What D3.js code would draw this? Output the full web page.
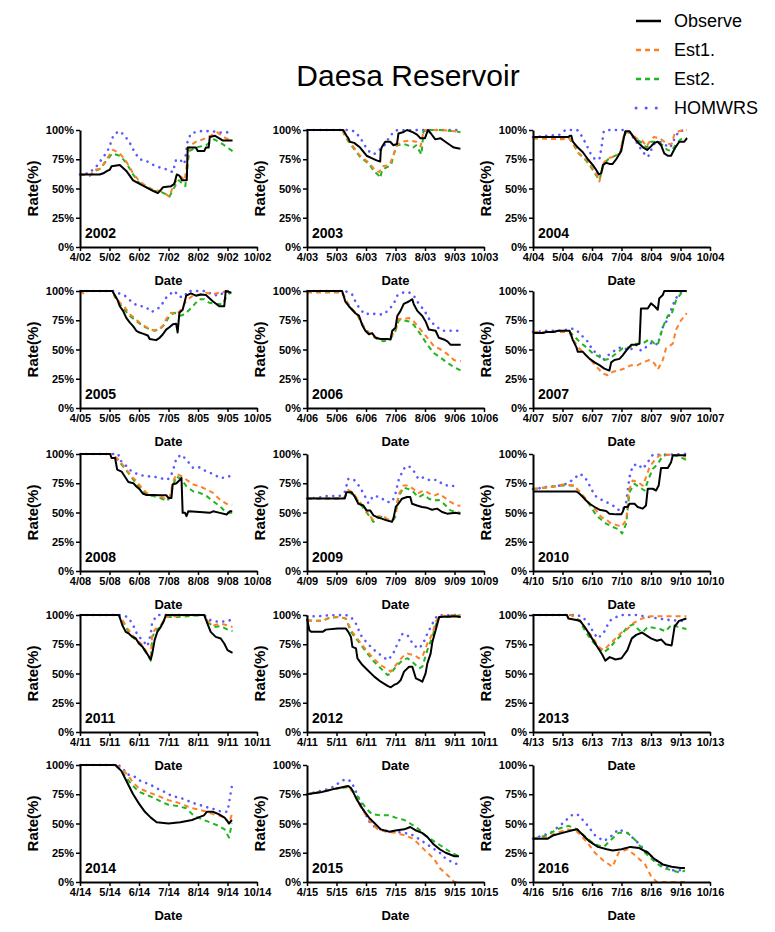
<!DOCTYPE html>
<html>
<head>
<meta charset="utf-8">
<script src="https://cdn.jsdelivr.net/npm/d3@7"></script>
<style>
body { margin: 0; background: #fff; }
svg text { font-family: "Liberation Sans", Arial, sans-serif; }
</style>
</head>
<body>
<svg id="chart" width="775" height="932"></svg>
<script>
// panels, one per year
var years = [2002, 2003, 2004, 2005, 2006, 2007, 2008, 2009, 2010, 2011, 2012, 2013, 2014, 2015, 2016];
// year suffix printed on the date ticks (the 2012 panel says /11 in the source)
var tickYY = ['02', '03', '04', '05', '06', '07', '08', '09', '10', '11', '11', '13', '14', '15', '16'];
var monthTicks = [4, 5, 6, 7, 8, 9, 10];
var rateTicks = [0, 25, 50, 75, 100];
var seriesNames = ['Observe', 'Est1.', 'Est2.', 'HOMWRS'];

// points are [month (4 = 1 April), rate %]
var observe = [
  [[4,62],[4.67,62],[4.79,63],[4.92,65],[5.01,66],[5.07,69],[5.35,70],[5.57,65],[5.8,57],[6.02,54],[6.25,51],[6.47,48],[6.64,46],[6.75,49],[6.81,51],[7.09,52],[7.2,54],[7.28,62],[7.37,61],[7.46,57],[7.62,57],[7.65,85],[7.93,85],[7.99,82],[8.21,82],[8.27,85],[8.36,85],[8.4,94],[8.58,95],[8.78,92],[8.85,91],[9.17,91]],
  [[4,100],[5.23,100],[5.34,95],[5.4,93],[5.45,90],[5.6,89],[5.8,85],[6.02,78],[6.19,76],[6.36,74],[6.48,73],[6.5,82],[6.53,85],[6.65,90],[6.82,90],[6.93,87],[7.05,88],[7.1,97],[7.25,98],[7.39,100],[7.6,98],[7.73,96],[7.84,93],[8.0,93],[8.1,100],[8.2,97],[8.35,92],[8.52,93],[8.69,90],[8.86,87],[8.98,85],[9.2,84]],
  [[4,94],[5.18,94],[5.25,95],[5.3,95],[5.35,90],[5.52,85],[5.69,81],[5.86,75],[6.03,70],[6.14,66],[6.23,62],[6.31,63],[6.37,70],[6.48,72],[6.59,71],[6.7,71],[6.82,75],[6.99,82],[7.07,92],[7.13,99],[7.27,99],[7.38,95],[7.5,91],[7.61,88],[7.74,85],[7.87,83],[8.0,86],[8.11,89],[8.23,90],[8.34,87],[8.45,80],[8.57,78],[8.68,78],[8.76,82],[8.85,86],[8.96,90],[9.13,90],[9.22,93]],
  [[4,100],[5.1,100],[5.12,99],[5.26,93],[5.35,87],[5.46,83],[5.57,77],[5.69,73],[5.8,70],[5.91,66],[6.02,64.5],[6.13,63.6],[6.3,62],[6.36,59],[6.58,58],[6.7,60],[6.81,63],[6.92,67],[7.03,69],[7.15,71.6],[7.26,72],[7.31,64.5],[7.37,81.5],[7.48,84],[7.6,96],[7.76,98],[7.93,96],[8.1,97],[8.27,96.6],[8.49,91.5],[8.72,87],[8.89,87],[8.94,100],[9.13,98.6]],
  [[4,100],[5.19,100],[5.3,91],[5.42,87],[5.53,84],[5.64,81],[5.76,79],[5.87,71],[5.98,66],[6.1,63],[6.21,64],[6.32,60],[6.49,59],[6.72,59],[6.83,58.6],[6.89,66],[7.0,68.6],[7.06,78.6],[7.17,83],[7.28,89],[7.45,91],[7.57,93],[7.62,88.6],[7.74,83],[7.91,78.6],[8.02,74],[8.13,67],[8.36,66],[8.47,60],[8.64,58.6],[8.76,57],[8.87,54],[9.21,54]],
  [[4,64],[4.34,64],[4.45,65],[4.68,65],[4.85,66],[5.24,66],[5.3,62],[5.35,58],[5.47,52],[5.52,48],[5.69,48],[5.8,45],[5.92,42],[6.09,39],[6.25,36.6],[6.42,33.7],[6.59,32],[6.65,39],[6.76,41],[6.93,42],[7.04,45],[7.16,49],[7.33,54],[7.5,54],[7.61,55],[7.66,85],[7.89,85],[8.0,89.4],[8.12,87],[8.23,84],[8.28,93.7],[8.4,96.6],[8.45,100],[9.21,100]],
  [[4,100],[5.02,100],[5.07,96.6],[5.19,96.6],[5.26,86.6],[5.41,85],[5.52,80.7],[5.64,76],[5.81,75],[5.92,72],[6.03,69.6],[6.14,66],[6.26,65],[6.48,65],[6.71,64.8],[6.93,64.8],[6.99,62.5],[7.1,62.5],[7.14,73.9],[7.27,75],[7.39,78],[7.44,79.5],[7.48,49.7],[7.56,49.7],[7.61,46.9],[7.67,51],[8.06,50.5],[8.4,49.7],[8.51,51],[8.74,49.7],[8.97,48.3],[9.08,51],[9.16,51]],
  [[4,62],[5.28,62],[5.34,67.4],[5.51,67.4],[5.63,63],[5.74,57.5],[5.91,56],[6.02,51.8],[6.14,51.8],[6.25,47.6],[6.36,46.2],[6.53,44.8],[6.7,43.3],[6.88,42],[6.93,44.8],[7.01,54.7],[7.1,57.5],[7.22,61.8],[7.39,63.2],[7.5,63.2],[7.56,57.5],[7.73,56],[7.9,54.7],[8.07,54],[8.24,52.4],[8.41,53.3],[8.58,50.4],[8.75,49],[9.03,49.8],[9.2,49]],
  [[4,68],[5.47,68],[5.58,66],[5.69,63.2],[5.8,60.3],[5.92,57.5],[6.09,54.7],[6.25,52.4],[6.48,51.3],[6.59,49],[6.82,48.4],[6.99,48.4],[7.04,50.4],[7.1,54.7],[7.21,54.7],[7.27,57.5],[7.44,57.5],[7.55,54.7],[7.72,53.3],[7.83,56],[7.89,70.3],[8.06,70.3],[8.17,68.8],[8.26,73],[8.34,88],[8.57,88],[8.68,93],[8.74,99],[9.19,99]],
  [[4,100],[5.32,100],[5.44,91],[5.55,85.6],[5.66,84],[5.78,81.3],[5.89,79.9],[6.0,75.6],[6.12,72.8],[6.23,68.6],[6.34,64.3],[6.4,62],[6.45,67],[6.53,78.5],[6.62,85.6],[6.74,89.8],[6.85,95.5],[6.91,100],[8.21,100],[8.32,92.6],[8.43,85.6],[8.6,81.3],[8.77,79.9],[8.89,75.6],[9.0,70],[9.17,67.7]],
  [[4,96.9],[4.08,87],[4.14,85.6],[4.53,85.6],[4.64,87.5],[5.04,88.4],[5.32,88.4],[5.4,85.6],[5.49,81.3],[5.54,72.8],[5.66,71.4],[5.71,62.9],[5.88,57.2],[6.05,53],[6.28,47.3],[6.5,43],[6.73,39.4],[6.84,38.2],[6.95,40.2],[7.07,41.6],[7.18,44.5],[7.29,51.6],[7.46,55.8],[7.57,55.8],[7.69,45.9],[7.8,44.5],[7.91,43],[8.02,50.1],[8.08,58.6],[8.19,67],[8.25,77],[8.36,87],[8.48,98.3],[8.98,98.9],[9.21,98.3]],
  [[4,100],[5.15,100],[5.2,97],[5.6,95],[5.8,88],[6.0,80],[6.2,72],[6.35,66],[6.45,61],[6.6,64],[6.8,62],[7.0,63],[7.2,70],[7.35,80],[7.5,83],[7.7,85],[8.0,80],[8.2,78],[8.35,79],[8.5,75],[8.7,74],[8.8,90],[8.95,95],[9.2,97]],
  [[4,100],[5.2,100],[5.4,95],[5.6,85],[5.8,75],[6.0,67],[6.2,60],[6.4,55],[6.6,51],[7.0,50],[7.4,51],[7.8,53],[8.0,55],[8.2,57],[8.3,60],[8.5,60],[8.7,58],[8.9,55],[9.0,52],[9.05,50],[9.15,53]],
  [[4,75],[4.5,77],[5.0,80],[5.4,82],[5.5,80],[5.7,70],[5.9,62],[6.1,55],[6.3,50],[6.5,45],[6.8,43],[7.0,44],[7.3,45],[7.5,47],[7.7,44],[7.9,42],[8.1,38],[8.3,32],[8.5,28],[8.7,25],[9.0,22],[9.15,22]],
  [[4,37],[4.5,37],[4.7,40],[5.0,42],[5.3,44],[5.5,45],[5.7,40],[5.9,35],[6.2,30],[6.5,28],[6.7,27],[7.0,28],[7.3,30],[7.6,29],[7.9,25],[8.1,20],[8.4,15],[8.7,13],[9.0,12],[9.15,12]]
];

var est1 = [
  [[4,62],[4.34,61],[4.5,66],[4.7,67],[4.9,75],[5.12,83],[5.35,80],[5.57,73],[5.8,63],[6.02,56],[6.25,52],[6.47,49],[6.7,48],[6.92,45],[7.03,43],[7.2,55],[7.43,60],[7.55,57],[7.7,86],[7.93,90],[8.16,92],[8.5,96],[8.65,98],[8.94,93],[9.17,91]],
  [[4,100],[5.2,100],[5.3,95],[5.5,88],[5.8,78],[6.1,72],[6.3,66],[6.45,64],[6.55,69],[6.8,70],[6.95,80],[7.05,87],[7.2,90],[7.5,91],[7.7,90],[7.85,86],[7.95,99],[8.05,100],[8.5,100],[9.0,99],[9.2,98]],
  [[4,93],[5.0,92],[5.2,94],[5.38,88],[5.55,80],[5.8,75],[6.0,68],[6.15,62],[6.25,56],[6.4,72],[6.55,76],[6.7,77],[6.95,80],[7.05,93],[7.15,99],[7.35,97],[7.5,93],[7.7,91],[7.85,86],[7.95,90],[8.1,94],[8.3,93],[8.45,90],[8.55,88],[8.7,88],[8.8,97],[8.95,99],[9.1,100],[9.22,100]],
  [[4,100],[4.1,98],[4.25,100],[5.1,100],[5.18,96],[5.35,90],[5.52,86],[5.69,80],[5.8,78],[6.02,73],[6.25,69],[6.47,66.5],[6.64,67],[6.81,70],[6.92,76],[7.09,81.5],[7.26,80],[7.43,84],[7.6,91.5],[7.82,96],[8.04,97],[8.27,98.6],[8.49,97],[8.72,98.6],[9.0,100],[9.13,98.6]],
  [[4,99],[5.19,99],[5.3,93],[5.47,86],[5.7,80],[5.93,69],[6.15,63],[6.38,60],[6.6,58.6],[6.83,60],[7.0,67],[7.11,76],[7.28,76],[7.45,77],[7.62,74],[7.85,67],[8.08,60],[8.3,53],[8.53,50],[8.76,46],[8.98,41],[9.21,40]],
  [[4,65],[5.1,65],[5.24,64],[5.35,59],[5.52,52],[5.69,48],[5.92,42],[6.14,35.7],[6.37,29.4],[6.54,28],[6.71,31],[6.88,32],[7.1,33.7],[7.33,36.6],[7.55,36.6],[7.72,39],[7.95,41],[8.12,38],[8.23,33],[8.4,41],[8.51,51],[8.74,55],[8.85,67],[9.02,75],[9.21,81]],
  [[4,100],[5.1,100],[5.24,96.6],[5.41,92],[5.58,86.6],[5.75,80.7],[5.92,76.7],[6.09,71],[6.26,66.8],[6.48,65],[6.71,64],[6.93,61],[7.05,64],[7.16,76.7],[7.27,83],[7.44,81],[7.61,78],[7.84,73.9],[8.06,72.4],[8.29,69.6],[8.51,66.8],[8.74,61],[8.97,57.4],[9.16,56.8]],
  [[4,62],[5.2,62],[5.28,63.2],[5.4,69.4],[5.57,66.6],[5.74,60.3],[5.91,55.2],[6.08,49],[6.25,43.3],[6.36,46.2],[6.53,47.6],[6.7,44.8],[6.88,43.3],[6.99,47.6],[7.1,65],[7.27,73],[7.44,73],[7.61,70],[7.78,66.6],[7.95,68.8],[8.13,66.6],[8.3,64.3],[8.47,66],[8.64,63.2],[8.86,59],[9.09,56],[9.2,55.8]],
  [[4,70],[4.3,71],[4.7,72],[5.0,74],[5.4,73],[5.63,66],[5.8,61.8],[5.97,56],[6.14,51.8],[6.31,46.2],[6.48,44],[6.65,40.5],[6.87,39],[6.99,37.7],[7.16,43.3],[7.25,68.8],[7.38,77.3],[7.55,76],[7.72,73],[7.83,80],[7.95,88.7],[8.11,94.3],[8.28,98.6],[8.51,99.4],[8.96,99],[9.19,97.7]],
  [[4,100],[5.3,100],[5.44,95.5],[5.61,88.4],[5.78,82.7],[5.95,78.5],[6.12,74.2],[6.29,67],[6.4,64.3],[6.45,84],[6.57,88.4],[6.74,91.2],[6.91,98.3],[7.19,98.9],[7.64,100],[8.21,100],[8.32,95],[8.55,91.2],[8.77,92.6],[9.0,91.2],[9.17,89.8]],
  [[4,95.5],[4.19,95],[4.53,95],[4.76,97.7],[5.09,98.3],[5.32,96.9],[5.49,87],[5.66,81.3],[5.88,74.2],[6.05,68.6],[6.28,62],[6.5,57.2],[6.73,53.5],[6.84,51.6],[7.01,57.2],[7.24,64.3],[7.41,67],[7.63,65.7],[7.8,62.9],[7.91,64.3],[8.08,75.6],[8.25,84],[8.36,94],[8.48,98.9],[8.98,100],[9.21,100]],
  [[4,100],[5.3,100],[5.6,95],[5.8,88],[6.05,80],[6.2,73],[6.4,70],[6.6,75],[6.8,80],[7.0,85],[7.2,88],[7.4,93],[7.6,96],[7.8,98],[8.0,99],[8.6,99],[9.2,99]],
  [[4,100],[5.2,100],[5.4,97],[5.6,92],[5.8,85],[6.0,80],[6.2,78],[6.5,75],[6.8,72],[7.0,70],[7.3,68],[7.6,65],[7.8,63],[8.0,62],[8.3,60],[8.5,58],[8.7,57],[8.9,55],[9.05,50],[9.15,58]],
  [[4,75],[4.5,77],[5.0,80],[5.4,82],[5.6,75],[5.8,65],[6.0,57],[6.2,50],[6.4,45],[6.7,43],[7.0,42],[7.3,40],[7.6,37],[7.8,32],[8.0,27],[8.3,20],[8.5,12],[8.8,5],[9.0,0],[9.15,0]],
  [[4,37],[4.5,38],[4.8,42],[5.2,45],[5.5,43],[5.8,35],[6.1,25],[6.4,18],[6.7,13],[6.9,25],[7.2,28],[7.5,22],[7.8,15],[8.0,5],[8.2,0],[9.15,0]]
];

var est2 = [
  [[4,62],[4.34,61],[4.5,65],[4.7,67],[4.9,74],[5.1,80],[5.35,78],[5.57,72],[5.8,62],[6.0,55],[6.25,51],[6.5,48],[6.75,47],[6.92,45],[7.03,43],[7.22,52],[7.35,57],[7.57,52],[7.7,82],[7.93,85],[8.27,87],[8.55,92],[8.83,88],[9.17,82]],
  [[4,100],[5.2,100],[5.3,94],[5.5,87],[5.8,77],[6.1,71],[6.3,64],[6.4,62],[6.48,59],[6.55,66],[6.7,68],[6.85,70],[6.95,80],[7.05,87],[7.3,88],[7.6,85],[7.7,87],[7.88,79],[7.95,99],[8.1,100],[8.5,100],[9.0,99],[9.2,98]],
  [[4,93],[5.0,93],[5.2,94],[5.38,87],[5.55,80],[5.8,74],[6.0,67],[6.15,61],[6.25,57],[6.4,71],[6.55,75],[6.7,77],[6.95,80],[7.05,92],[7.15,98],[7.35,96],[7.5,92],[7.7,89],[7.85,85],[8.0,90],[8.2,90],[8.35,88],[8.55,83],[8.7,82],[8.85,88],[9.0,92],[9.22,93]],
  [[4,100],[5.1,100],[5.18,95],[5.35,89],[5.52,83.5],[5.69,78.7],[5.91,74.4],[6.13,70],[6.36,67.3],[6.53,66],[6.7,67.3],[6.87,71.6],[7.03,78.7],[7.2,81.5],[7.37,78.7],[7.54,80],[7.71,84],[7.88,88.6],[8.04,93],[8.21,93],[8.38,90],[8.61,89],[8.83,88.6],[8.94,94],[9.06,97.7],[9.13,98.6]],
  [[4,99],[5.19,99],[5.3,93],[5.47,86],[5.7,80],[5.93,69],[6.15,63],[6.38,59],[6.6,57],[6.83,59],[7.0,66],[7.11,75],[7.28,75],[7.45,74],[7.62,71],[7.85,63],[8.08,54],[8.3,47],[8.53,43],[8.76,38.6],[8.98,35],[9.21,32]],
  [[4,65],[5.1,65],[5.24,65],[5.41,61],[5.58,56.6],[5.8,52],[6.03,46.6],[6.25,43.7],[6.42,41],[6.59,42],[6.82,46.6],[7.04,51],[7.27,52],[7.5,55],[7.72,55],[7.95,59],[8.12,55],[8.23,54],[8.4,69],[8.57,79],[8.68,79],[8.85,92],[9.02,98],[9.21,100]],
  [[4,100],[5.1,100],[5.24,96],[5.41,91],[5.58,85.8],[5.75,80],[5.92,74.4],[6.09,69.6],[6.26,65],[6.48,64],[6.71,62.5],[6.93,59.7],[7.05,62.5],[7.16,73.9],[7.27,81],[7.44,78],[7.61,72.4],[7.84,68],[8.06,66.8],[8.29,64],[8.51,59.7],[8.74,55.4],[8.97,49.7],[9.16,49.7]],
  [[4,62],[5.2,62],[5.28,63],[5.4,68],[5.57,65],[5.74,59.5],[5.91,53.8],[6.08,48],[6.25,42],[6.36,44.8],[6.53,46.2],[6.7,44],[6.88,42],[6.99,46.2],[7.1,63],[7.27,71.4],[7.44,70],[7.61,67.4],[7.78,63],[7.95,65.4],[8.13,61.8],[8.3,60.3],[8.47,60.6],[8.64,57.5],[8.86,51.8],[9.09,50.4],[9.2,49.6]],
  [[4,70],[4.6,72],[5.0,73],[5.4,73],[5.63,66],[5.8,61],[5.97,54.7],[6.14,47.6],[6.31,44],[6.48,40.5],[6.7,37.7],[6.93,35.4],[7.02,32],[7.16,40.5],[7.27,67.4],[7.44,74.5],[7.61,71.7],[7.78,68.8],[7.92,78.8],[8.06,87.3],[8.23,91.5],[8.4,98.6],[8.62,99.4],[8.96,97.7],[9.19,95]],
  [[4,100],[5.3,100],[5.44,95],[5.61,87],[5.78,81.3],[5.95,77],[6.12,72.8],[6.29,65.7],[6.4,61],[6.45,81.3],[6.57,87],[6.74,89.8],[6.91,98.3],[7.19,98.3],[7.64,98.9],[8.21,100],[8.32,94],[8.55,89.8],[8.77,90.4],[9.0,87.5],[9.17,86.4]],
  [[4,95.5],[4.19,95],[4.53,95],[4.76,97.7],[5.09,98.3],[5.32,96.9],[5.49,85.6],[5.66,80],[5.88,72.8],[6.05,67],[6.28,60],[6.5,54.4],[6.73,48.7],[6.84,50],[7.01,55.8],[7.24,61.5],[7.41,63],[7.63,58.6],[7.8,54.4],[7.91,55.8],[8.08,70],[8.25,81.3],[8.36,91.2],[8.48,98.3],[8.87,98.3],[9.21,100]],
  [[4,100],[5.3,100],[5.6,94],[5.8,85],[6.0,78],[6.2,72],[6.4,68],[6.6,72],[6.8,78],[7.0,83],[7.2,90],[7.4,92],[7.6,87],[7.7,85],[7.9,90],[8.1,89],[8.3,88],[8.5,86],[8.7,92],[8.9,90],[9.2,88]],
  [[4,100],[5.2,100],[5.4,95],[5.6,88],[5.8,82],[6.0,77],[6.2,75],[6.5,72],[6.8,68],[7.0,66],[7.3,65],[7.6,63],[7.8,58],[8.0,55],[8.3,52],[8.5,50],[8.7,48],[8.9,45],[9.05,38],[9.15,50]],
  [[4,75],[4.5,77],[5.0,80],[5.4,81],[5.6,77],[5.8,70],[6.0,63],[6.2,58],[6.5,57],[6.8,57],[7.0,55],[7.3,53],[7.5,50],[7.8,45],[8.0,40],[8.3,35],[8.6,30],[8.9,25],[9.15,22]],
  [[4,37],[4.5,40],[4.8,45],[5.2,48],[5.5,45],[5.8,38],[6.1,32],[6.4,30],[6.6,35],[6.9,42],[7.2,42],[7.5,35],[7.8,25],[8.1,18],[8.4,12],[8.7,10],[9.0,8],[9.15,10]]
];

var homwrs = [
  [[4,62],[4.3,63],[4.56,69],[4.9,80.7],[5.01,86],[5.07,92],[5.18,97],[5.35,99],[5.52,95],[5.69,89],[5.85,81],[6.02,75],[6.25,73.6],[6.42,71],[6.58,69],[6.7,68],[6.87,67],[7.03,65],[7.15,64],[7.26,75],[7.43,73.6],[7.54,71],[7.65,90.7],[7.76,97],[8.04,99],[8.49,99],[8.72,97.7],[9.0,98]],
  [[4,100],[5.45,100],[5.63,98.6],[5.8,93.5],[5.97,86.4],[6.14,80.7],[6.27,79.3],[6.6,86],[6.82,95],[7.0,99.7],[8.0,100],[9.2,100]],
  [[4,94],[4.9,96],[5.1,100],[5.5,100],[5.65,95],[5.8,88],[5.95,80],[6.1,75],[6.25,75],[6.32,85],[6.4,99],[6.6,100],[7.1,100],[7.3,97],[7.5,90],[7.65,84],[7.8,79],[7.9,77],[8.1,88],[8.3,90],[8.5,87],[8.65,85],[8.85,95],[8.95,99],[9.22,100]],
  [[4,100],[5.12,100],[5.52,96],[5.74,91],[5.91,88],[6.08,87],[6.25,86],[6.42,82],[6.58,84],[6.75,87],[6.87,93],[7.03,97],[7.2,100],[7.37,95],[7.54,95],[7.65,100],[8.27,100],[8.49,97],[8.72,96],[8.94,100],[9.13,100]],
  [[4,100],[5.3,100],[5.53,97],[5.64,91],[5.81,84],[5.98,80],[6.15,81],[6.38,80],[6.6,80],[6.77,84],[6.94,89],[7.06,96],[7.28,99],[7.45,99],[7.62,96],[7.79,89],[7.96,84],[8.19,74],[8.42,69],[8.59,66],[8.87,66],[9.21,66]],
  [[4,65],[4.5,66],[5.0,66],[5.3,68],[5.47,66.6],[5.69,61],[5.86,56.6],[6.03,49],[6.2,46.6],[6.37,41],[6.54,45],[6.71,48],[6.88,51],[7.04,52],[7.27,49],[7.5,54],[7.66,49],[7.83,52],[8.06,56.6],[8.23,54],[8.28,59],[8.4,69],[8.57,76],[8.74,88],[8.85,94],[9.02,99],[9.21,100]],
  [[4,100],[5.3,100],[5.35,95],[5.52,91],[5.75,85],[6.03,82],[6.26,81],[6.48,80.7],[6.71,79.5],[6.93,78],[7.05,79.5],[7.16,86.6],[7.27,96.6],[7.44,99.4],[7.61,95],[7.84,88],[8.06,88.6],[8.29,85],[8.51,83],[8.74,79.5],[8.97,80],[9.16,82]],
  [[4,62],[4.5,63],[4.65,64],[5.1,64],[5.28,67.4],[5.4,78.6],[5.57,78.6],[5.74,73.6],[5.91,66.6],[6.08,58],[6.25,64.3],[6.48,63.2],[6.7,59],[6.88,59],[6.99,65],[7.1,77.3],[7.27,87.3],[7.44,90],[7.61,85.8],[7.78,78.6],[7.95,80],[8.18,77.3],[8.41,78],[8.58,74.5],[8.86,72.2],[9.03,73]],
  [[4,70],[4.11,70],[4.34,71.7],[4.56,71.7],[4.9,73],[5.13,74.5],[5.35,78],[5.58,83],[5.75,80.7],[5.92,73],[6.09,64.6],[6.25,61.8],[6.48,59],[6.71,56],[6.88,52.4],[7.04,51.8],[7.16,59],[7.27,80],[7.38,90],[7.55,91.5],[7.72,87.3],[7.89,93],[8.06,99.4],[8.4,99.4],[9.19,100]],
  [[4,100],[5.4,100],[5.61,98.3],[5.78,92.6],[5.95,82.7],[6.12,78.5],[6.29,73.4],[6.4,84],[6.45,94],[6.62,100],[8.21,100],[8.43,95.5],[8.72,94],[9.0,95],[9.17,96]],
  [[4,98.9],[4.36,98.9],[4.7,99.7],[5.32,100],[5.49,98.3],[5.66,92.6],[5.83,82.7],[6.05,75.6],[6.28,70],[6.5,65.7],[6.73,61.5],[6.9,65.7],[7.07,75.6],[7.24,84],[7.41,82.7],[7.58,75.6],[7.75,71.4],[7.91,74.2],[8.08,84],[8.25,92.6],[8.42,99.7],[9.21,100]],
  [[4,100],[5.5,100],[5.7,98],[5.9,92],[6.05,85],[6.2,80],[6.4,85],[6.6,95],[6.8,98],[7.0,100],[7.5,100],[8.0,98],[8.5,96],[9.0,95],[9.2,95]],
  [[4,100],[5.3,100],[5.45,97],[5.6,92],[5.8,91],[6.0,87],[6.2,85],[6.4,83],[6.6,80],[6.8,78],[7.0,75],[7.2,73],[7.4,72],[7.6,70],[7.8,68],[8.0,66],[8.2,65],[8.4,63],[8.6,62],[8.8,60],[9.0,60],[9.15,82]],
  [[4,75],[4.8,80],[5.1,85],[5.3,88],[5.5,86],[5.7,75],[5.9,62],[6.1,52],[6.3,47],[6.6,44],[7.0,43],[7.3,42],[7.6,40],[7.9,35],[8.2,30],[8.5,25],[8.7,20],[9.0,16],[9.15,15]],
  [[4,37],[4.6,42],[5.0,50],[5.3,57],[5.5,58],[5.8,50],[6.1,40],[6.4,35],[6.6,38],[6.9,45],[7.2,42],[7.5,35],[7.8,27],[8.1,20],[8.4,14],[8.7,10],[9.0,10],[9.15,12]]
];

var series = [observe, est1, est2, homwrs];
var styles = [
  {color: '#000000', width: 2, dash: null, cap: 'butt'},
  {color: '#ff7f27', width: 2, dash: '5,4', cap: 'butt'},
  {color: '#1fb51f', width: 2, dash: '5,4', cap: 'butt'},
  {color: '#5a5aff', width: 2.6, dash: '0.1,6.5', cap: 'round'}
];

var svg = d3.select('#chart');
var font = '"Liberation Sans", Arial, sans-serif';

var colX = [80, 307, 533],
    rowY = [130, 291, 454, 615, 765],
    pw = 177,
    ph = 117;

var x = d3.scaleLinear().domain([4, 10]).range([0, pw]);
var y = d3.scaleLinear().domain([0, 100]).range([ph, 0]);
var line = d3.line().x(d => x(d[0])).y(d => y(d[1]));

// title
svg.append('text')
    .attr('x', 408)
    .attr('y', 86)
    .attr('text-anchor', 'middle')
    .attr('font-size', 30)
    .text('Daesa Reservoir');

// legend
var legend = svg.append('g');
seriesNames.forEach(function (name, k) {
    var ly = 21 + k * 29;
    legend.append('line')
        .attr('x1', 636).attr('x2', 661)
        .attr('y1', ly).attr('y2', ly)
        .attr('stroke', styles[k].color)
        .attr('stroke-width', k == 3 ? 3 : 2.5)
        .attr('stroke-dasharray', k == 3 ? '0.1,10' : styles[k].dash)
        .attr('stroke-linecap', styles[k].cap);
    legend.append('text')
        .attr('x', 674)
        .attr('y', ly)
        .attr('dy', '0.36em')
        .attr('font-size', 18)
        .text(name);
});

years.forEach(function (yr, i) {
    var g = svg.append('g')
        .attr('transform', 'translate(' + colX[i % 3] + ',' + rowY[Math.floor(i / 3)] + ')');

    // lines, observed on top
    for (var k = series.length - 1; k >= 0; k--) {
        g.append('path')
            .datum(series[k][i])
            .attr('d', line)
            .attr('fill', 'none')
            .attr('stroke', styles[k].color)
            .attr('stroke-width', styles[k].width)
            .attr('stroke-dasharray', styles[k].dash)
            .attr('stroke-linecap', styles[k].cap)
            .attr('stroke-linejoin', 'round');
    }

    // Axis
    var xa = g.append('g')
        .attr('transform', 'translate(0,' + ph + ')')
        .call(d3.axisBottom(x).tickValues(monthTicks)
            .tickFormat(m => m + '/' + tickYY[i])
            .tickSize(4).tickSizeOuter(0).tickPadding(2));

    var ya = g.append('g')
        .call(d3.axisLeft(y).tickValues(rateTicks)
            .tickFormat(d => d + '%')
            .tickSize(4).tickSizeOuter(0).tickPadding(2));

    [xa, ya].forEach(function (a) {
        a.attr('font-family', font).attr('font-size', 11).attr('font-weight', 'bold');
        a.select('.domain').attr('stroke-width', 2);
        a.selectAll('.tick line').attr('stroke-width', 1.5);
        a.selectAll('.tick text').attr('fill', '#000');
    });

    g.append('text')
        .attr('x', 5)
        .attr('y', ph - 9)
        .attr('font-size', 14)
        .attr('font-weight', 'bold')
        .text(yr);

    g.append('text')
        .attr('text-anchor', 'middle')
        .attr('x', pw / 2)
        .attr('y', ph + 38)
        .attr('font-size', 13)
        .attr('font-weight', 'bold')
        .text('Date');

    g.append('text')
        .attr('text-anchor', 'middle')
        .attr('transform', 'translate(-47,' + (ph / 2) + ') rotate(-90)')
        .attr('dy', '0.35em')
        .attr('font-size', 15)
        .attr('font-weight', 'bold')
        .text('Rate(%)');
});
</script>
</body>
</html>
